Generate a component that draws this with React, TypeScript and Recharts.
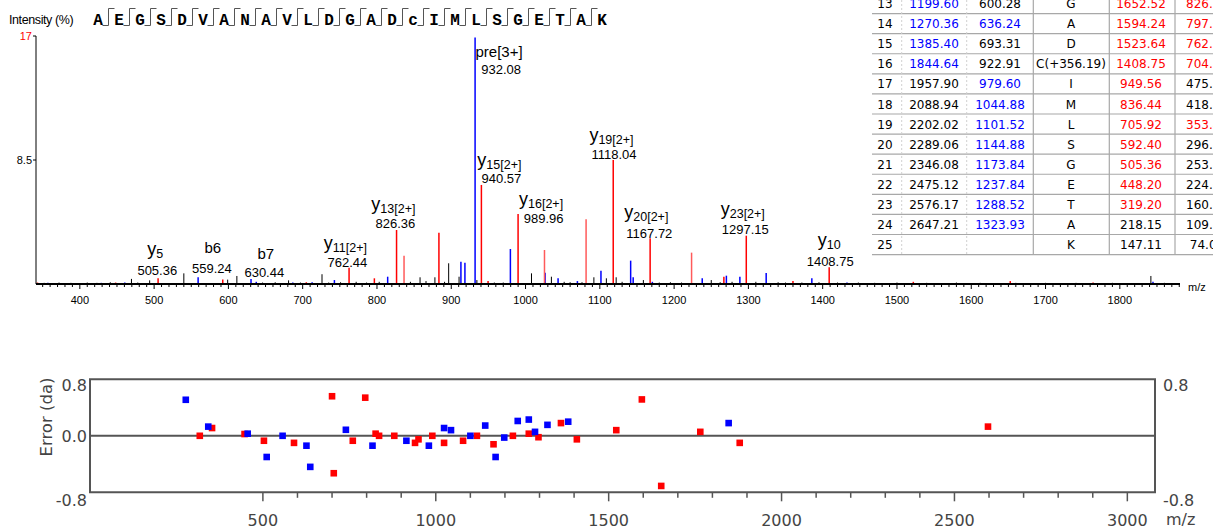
import React from 'react';
import {
  ComposedChart,
  ScatterChart,
  Scatter,
  XAxis,
  YAxis,
  ReferenceLine,
  ReferenceDot,
  ReferenceArea,
} from 'recharts';

// ---------------- spectrum peaks: [m/z, intensity %] ----------------
const blackPeaks: [number, number][] = [
  [352, 0.08], [372, 0.1], [388, 0.08], [410, 0.1], [423, 0.08], [441, 0.12], [469.5, 0.35],
  [478, 0.1], [494, 0.25], [540, 0.73], [599, 0.3], [611.4, 0.55], [646, 0.1], [663, 0.12],
  [681, 0.25], [697, 0.1], [726, 0.67], [735, 0.1], [751, 0.12], [772, 0.15], [786, 0.1],
  [803, 0.15], [845, 0.15], [858, 0.46], [866, 0.2], [878, 0.46], [891, 0.15], [896.5, 1.42],
  [910.5, 0.5], [934.5, 0.27], [958, 0.1], [970, 0.1], [1008, 0.73], [1034.8, 0.5], [1052, 0.15],
  [1060, 0.12], [1076, 0.12], [1092, 0.46], [1108.8, 0.39], [1122, 0.46], [1130, 0.15],
  [1158.6, 0.27], [1180, 0.1], [1195, 0.12], [1210, 0.1], [1250, 0.27], [1262, 0.12], [1278, 0.15],
  [1310, 0.15], [1340, 0.12], [1350, 0.1], [1372, 0.1], [1395, 0.12], [1420, 0.1], [1448, 0.1],
  [1470, 0.08], [1500, 0.1], [1540, 0.08], [1580, 0.1], [1612, 0.08], [1660, 0.08], [1700, 0.08],
  [1741, 0.08], [1790, 0.08], [1841.8, 0.55], [1860, 0.08],
];

const bluePeaks: [number, number][] = [
  [357, 0.08], [429, 0.08], [460.5, 0.1], [559.24, 0.46], [630.44, 0.34], [637.5, 0.15],
  [686.7, 0.1], [712.7, 0.12], [742.7, 0.27], [814.4, 0.5], [913, 1.53], [918.4, 1.46],
  [932.08, 16.9], [979.6, 2.4], [1026.3, 0.77], [1043.8, 0.39], [1069.8, 0.2], [1101.52, 0.91],
  [1141.5, 1.6], [1144.88, 0.46], [1170.7, 0.15], [1237.84, 0.39], [1270.36, 0.57],
  [1288.52, 0.5], [1323.93, 0.75], [1385.4, 0.39], [1432.7, 0.1], [1844.64, 0.15],
];

const redPeaks: [number, number][] = [
  [343, 0.1], [448.2, 0.1], [505.36, 0.39], [592.4, 0.3], [704.88, 0.12], [762.44, 1.12],
  [796.5, 0.39], [826.36, 3.7], [883.4, 3.52], [940.57, 6.79], [949.56, 0.2], [989.96, 4.8],
  [1118.04, 8.5], [1167.72, 3.13], [1267, 0.5], [1297.15, 3.31], [1360, 0.2], [1408.75, 1.14],
  [1522, 0.15], [1652.52, 0.2], [1764, 0.1],
];

const lightRedPeaks: [number, number][] = [
  [836.44, 1.94], [1025.5, 2.33], [1081.5, 4.43], [1223.5, 2.15],
];

// annotated peaks
const annotations = [
  { key: 'pre', mz: 932.08, int: 16.9, head: 'pre', sub: '', tail: '[3+]', value: '932.08' },
  { key: 'y15', mz: 940.57, int: 6.79, head: 'y', sub: '15', tail: '[2+]', value: '940.57' },
  { key: 'y16', mz: 989.96, int: 4.8, head: 'y', sub: '16', tail: '[2+]', value: '989.96' },
  { key: 'y19', mz: 1118.04, int: 8.5, head: 'y', sub: '19', tail: '[2+]', value: '1118.04' },
  { key: 'y20', mz: 1167.72, int: 3.13, head: 'y', sub: '20', tail: '[2+]', value: '1167.72' },
  { key: 'y23', mz: 1297.15, int: 3.31, head: 'y', sub: '23', tail: '[2+]', value: '1297.15' },
  { key: 'y13', mz: 826.36, int: 3.7, head: 'y', sub: '13', tail: '[2+]', value: '826.36' },
  { key: 'y11', mz: 762.44, int: 1.12, head: 'y', sub: '11', tail: '[2+]', value: '762.44' },
  { key: 'y10', mz: 1408.75, int: 1.14, head: 'y', sub: '10', tail: '', value: '1408.75' },
  { key: 'y5', mz: 505.36, int: 0.39, head: 'y', sub: '5', tail: '', value: '505.36' },
  { key: 'b6', mz: 559.24, int: 0.46, head: 'b6', sub: '', tail: '', value: '559.24' },
  { key: 'b7', mz: 630.44, int: 0.34, head: 'b7', sub: '', tail: '', value: '630.44' },
];

// label placement (px offsets from the peak top): [dx1, dy1, dx2, dy2]
const annLayout: Record<string, number[]> = {
  pre: [24, 19.5, 26, 36.5],
  y15: [18, -19, 20, -2],
  y16: [23, -9, 25.6, 9],
  y19: [-1.8, -19, 0.7, -1],
  y20: [-3.8, -20, -0.8, 0],
  y23: [-3.5, -20.7, -1, -1.7],
  y13: [-3.2, -20, -1.2, -2],
  y11: [-3.7, -18.7, -1.7, -0.7],
  y10: [0, -21.4, 1, -1.4],
  y5: [-2.8, -23.3, -0.8, -3.3],
  b6: [14.7, -24.3, 13.7, -4.3],
  b7: [14.8, -20, 13.3, -2],
};

const specMajorTicks = [400, 500, 600, 700, 800, 900, 1000, 1100, 1200, 1300, 1400, 1500, 1600, 1700, 1800];
const specTicks = Array.from({ length: 154 }, (_, i) => 350 + i * 10);

// ---------------- fragment table ----------------
const tableIdx = [13, 14, 15, 16, 17, 18, 19, 20, 21, 22, 23, 24, 25];
const tableB = ['1199.60', '1270.36', '1385.40', '1844.64', '1957.90', '2088.94', '2202.02', '2289.06', '2346.08', '2475.12', '2576.17', '2647.21', ''];
const tableB2 = ['600.28', '636.24', '693.31', '922.91', '979.60', '1044.88', '1101.52', '1144.88', '1173.84', '1237.84', '1288.52', '1323.93', ''];
const tableRes = ['G', 'A', 'D', 'C(+356.19)', 'I', 'M', 'L', 'S', 'G', 'E', 'T', 'A', 'K'];
const tableY = ['1652.52', '1594.24', '1523.64', '1408.75', '949.56', '836.44', '705.92', '592.40', '505.36', '448.20', '319.20', '218.15', '147.11'];
const tableY2 = ['826.76', '797.62', '762.32', '704.88', '475.28', '418.72', '353.46', '296.70', '253.18', '224.60', '160.10', '109.58', '74.06'];
const matchB = [1, 1, 1, 1, 0, 0, 0, 0, 0, 0, 0, 0, 0];
const matchB2 = [0, 1, 0, 0, 1, 1, 1, 1, 1, 1, 1, 1, 0];
const matchY = [1, 1, 1, 1, 1, 1, 1, 1, 1, 1, 1, 0, 0];
const matchY2 = [1, 1, 1, 1, 0, 0, 1, 0, 0, 0, 0, 0, 0];

const sequence = ['A', 'E', 'G', 'S', 'D', 'V', 'A', 'N', 'A', 'V', 'L', 'D', 'G', 'A', 'D', 'c', 'I', 'M', 'L', 'S', 'G', 'E', 'T', 'A', 'K'];

// ---------------- error plot ----------------
const bErrMz = [277, 342, 456, 511, 557, 626, 637, 740, 817, 915, 980, 1024, 1044, 1100, 1143, 1173, 1198, 1237, 1269, 1287, 1323, 1383, 1847];
const bErr = [0.51, 0.13, 0.03, -0.3, 0.0, -0.14, -0.44, 0.085, -0.14, -0.07, -0.14, 0.11, 0.08, 0.0, 0.145, -0.3, -0.025, 0.21, 0.23, 0.056, 0.155, 0.2, 0.18];
const yErrMz = [317.5, 353, 447, 503, 590, 700, 705, 760, 796, 826, 836, 880, 940, 950, 990, 1024, 1079, 1119, 1167, 1223, 1269, 1297, 1362, 1408, 1522, 1596, 1652, 1765, 1879, 2597];
const yErr = [0.0, 0.11, 0.025, -0.07, -0.1, 0.56, -0.53, -0.07, 0.54, 0.03, 0.0, 0.0, -0.1, -0.05, 0.0, -0.1, -0.07, 0.0, -0.12, 0.0, 0.03, -0.02, 0.18, -0.05, 0.08, 0.515, -0.71, 0.056, -0.1, 0.13];
const errMajorTicks = [500, 1000, 1500, 2000, 2500, 3000];
const errTicks = Array.from({ length: 26 }, (_, i) => 500 + i * 100);

const BLUE = '#0000ff';
const RED = '#ff0000';
const LIGHTRED = '#ff5a5a';
const SANS = 'Liberation Sans, Arial, sans-serif';
const TAHOMA = 'DejaVu Sans, Verdana, sans-serif';

const SpecXTick = (props: any) => {
  const { x, y, payload } = props;
  const v = payload.value;
  const major = specMajorTicks.includes(v);
  return (
    <g>
      <line x1={x} x2={x} y1={y} y2={y + (major ? 5 : 3)} stroke="#000" strokeWidth={1} />
      {major && (
        <text x={x} y={y + 20} textAnchor="middle" fontSize={11} fontFamily={SANS} fill="#000">
          {v}
        </text>
      )}
    </g>
  );
};

const SpecYTick = (props: any) => {
  const { x, y, payload } = props;
  const v = payload.value;
  const top = v === 17;
  return (
    <g>
      <line x1={x - 3} x2={x} y1={y} y2={y} stroke="#000" strokeWidth={1} />
      <text x={x - 4} y={y + 4} textAnchor="end" fontSize={11} fontFamily={SANS} fill={top ? RED : '#000'}>
        {top ? '17' : '8.5'}
      </text>
    </g>
  );
};

const PeakLabel = ({ cx, cy, a }: any) => {
  const [dx1, dy1, dx2, dy2] = annLayout[a.key];
  const isY = a.head === 'y';
  return (
    <g fontFamily={SANS} fill="#000">
      <text x={cx + dx1} y={cy + dy1} textAnchor="middle">
        <tspan fontSize={isY ? 18 : 15}>{a.head}</tspan>
        {a.sub ? <tspan fontSize={12.5} dy={3}>{a.sub}</tspan> : null}
        {a.tail ? <tspan fontSize={a.sub ? 12.5 : 15}>{a.tail}</tspan> : null}
      </text>
      <text x={cx + dx2} y={cy + dy2} textAnchor="middle" fontSize={13}>
        {a.value}
      </text>
    </g>
  );
};

const ErrXTick = (props: any) => {
  const { x, y, payload } = props;
  const v = payload.value;
  const major = errMajorTicks.includes(v);
  return (
    <g>
      <line x1={x} x2={x} y1={y} y2={y + (major ? 9 : 5.5)} stroke="#555" strokeWidth={1.5} />
      {major && (
        <text x={x} y={y + 34} textAnchor="middle" fontSize={16} fontFamily={TAHOMA} fill="#444">
          {v}
        </text>
      )}
    </g>
  );
};

const ErrYTick = (props: any) => {
  const { x, y, payload, side } = props;
  const v = payload.value;
  const dy = v > 0 ? 6 : v < 0 ? 8 : 0;
  const label = v === 0 ? '0.0' : v.toFixed(1);
  return (
    <text
      x={side === 'left' ? x - 3 : x + 8}
      y={y + dy + 6}
      textAnchor={side === 'left' ? 'end' : 'start'}
      fontSize={16}
      fontFamily={TAHOMA}
      fill="#444"
    >
      {label}
    </text>
  );
};

const Square = (props: any) => {
  const { cx, cy, fill } = props;
  if (cx == null || cy == null) return null;
  return <rect x={cx - 3.3} y={cy - 3.3} width={6.6} height={6.6} fill={fill} />;
};

const allPeaks = [
  ...blackPeaks.map((p) => ({ mz: p[0], int: p[1], c: '#000', w: 1 })),
  ...bluePeaks.map((p) => ({ mz: p[0], int: p[1], c: BLUE, w: 1.5 })),
  ...lightRedPeaks.map((p) => ({ mz: p[0], int: p[1], c: LIGHTRED, w: 1.5 })),
  ...redPeaks.map((p) => ({ mz: p[0], int: p[1], c: RED, w: 1.5 })),
];

const Spectrum = () => (
  <ComposedChart width={1213} height={320} margin={{ top: 36, right: 33, bottom: 6, left: 0 }}>
    <XAxis
      type="number"
      dataKey="mz"
      domain={[341, 1881]}
      ticks={specTicks}
      interval={0}
      tick={<SpecXTick />}
      tickLine={false}
      tickSize={0}
      tickMargin={0}
      axisLine={{ stroke: '#000', strokeWidth: 2 }}
      height={30}
      allowDataOverflow
    />
    <YAxis
      type="number"
      dataKey="int"
      domain={[0, 17]}
      ticks={[8.5, 17]}
      interval={0}
      width={36}
      tick={<SpecYTick />}
      tickLine={false}
      tickSize={0}
      tickMargin={0}
      axisLine={{ stroke: '#000', strokeWidth: 1 }}
      allowDataOverflow
    />
    <Scatter data={allPeaks} dataKey="int" shape={() => <g />} isAnimationActive={false} />
    {allPeaks.map((p, i) => (
      <ReferenceLine
        key={'pk' + i}
        segment={[
          { x: p.mz, y: 0 },
          { x: p.mz, y: p.int },
        ]}
        stroke={p.c}
        strokeWidth={p.w}
        ifOverflow="visible"
      />
    ))}
    {annotations.map((a) => (
      <ReferenceDot
        key={'an' + a.key}
        x={a.mz}
        y={a.int}
        r={0}
        ifOverflow="visible"
        shape={(p: any) => <PeakLabel cx={p.cx} cy={p.cy} a={a} />}
      />
    ))}
  </ComposedChart>
);

const bErrData = bErrMz.map((m, i) => ({ mz: m, err: bErr[i] }));
const yErrData = yErrMz.map((m, i) => ({ mz: m, err: yErr[i] }));

const ErrorPlot = () => (
  <ScatterChart width={1213} height={169} margin={{ top: 19.3, right: 0, bottom: 0, left: 0 }}>
    <XAxis
      type="number"
      dataKey="mz"
      domain={[0, 3080]}
      ticks={errTicks}
      interval={0}
      tick={<ErrXTick />}
      tickLine={false}
      tickSize={0}
      tickMargin={0}
      axisLine={false}
      height={36.7}
      allowDataOverflow
    />
    <YAxis
      type="number"
      dataKey="err"
      domain={[-0.8, 0.8]}
      ticks={[-0.8, 0, 0.8]}
      interval={0}
      width={90}
      tick={<ErrYTick side="left" />}
      tickLine={false}
      tickSize={0}
      tickMargin={0}
      axisLine={false}
      allowDataOverflow
    />
    <YAxis
      yAxisId="right"
      orientation="right"
      type="number"
      domain={[-0.8, 0.8]}
      ticks={[-0.8, 0.8]}
      interval={0}
      width={58}
      tick={<ErrYTick side="right" />}
      tickLine={false}
      tickSize={0}
      tickMargin={0}
      axisLine={false}
      allowDataOverflow
    />
    <ReferenceArea x1={0} x2={3080} y1={-0.8} y2={0.8} fill="none" stroke="#555" strokeWidth={2} ifOverflow="visible" />
    <ReferenceLine y={0} stroke="#555" strokeWidth={2} />
    <Scatter data={yErrData} fill={RED} shape={<Square />} isAnimationActive={false} />
    <Scatter data={bErrData} fill={BLUE} shape={<Square />} isAnimationActive={false} />
  </ScatterChart>
);

const Header = () => {
  const x0 = 98;
  const step = 21;
  return (
    <svg width={640} height={34} style={{ position: 'absolute', left: 0, top: 0 }}>
      <text x={9} y={24} fontSize={12.5} fontFamily={SANS} fill="#000" letterSpacing={-0.4}>
        Intensity (%)
      </text>
      {sequence.map((s, i) => (
        <text
          key={'s' + i}
          x={x0 + i * step}
          y={25}
          textAnchor="middle"
          fontSize={16}
          fontWeight="bold"
          fontFamily="Liberation Mono, Courier New, monospace"
          fill="#000"
        >
          {s}
        </text>
      ))}
      {sequence.slice(0, -1).map((_, i) => {
        const xs = x0 + i * step + 10.5;
        return (
          <path
            key={'m' + i}
            d={`M ${xs - 6} 25.5 L ${xs} 25.5 L ${xs} 8.5 L ${xs + 6} 8.5`}
            fill="none"
            stroke="#555"
            strokeWidth={1}
          />
        );
      })}
    </svg>
  );
};

const Table = () => {
  const rowH = 20.08;
  const c0 = 3.6;
  const colX = [885, 934, 1000, 1071, 1141, 1207];
  const cellColor = (m: number, c: string) => (m ? c : '#000');
  return (
    <svg width={1213} height={260} style={{ position: 'absolute', left: 0, top: 0 }}>
      <rect x={872} y={0} width={341} height={255} fill="#fff" />
      {tableIdx.map((_, k) => (
        <line key={'h' + k} x1={872} x2={1213} y1={c0 + 10 + rowH * k} y2={c0 + 10 + rowH * k} stroke="#a8a8a8" strokeWidth={1.2} />
      ))}
      <line x1={901.7} x2={901.7} y1={0} y2={254.6} stroke="#d0d0d0" strokeWidth={1} strokeDasharray="2 2" />
      <line x1={966.7} x2={966.7} y1={0} y2={254.6} stroke="#d0d0d0" strokeWidth={1} strokeDasharray="2 2" />
      <line x1={1033.3} x2={1033.3} y1={0} y2={254.6} stroke="#a8a8a8" strokeWidth={1.2} />
      <line x1={1109.3} x2={1109.3} y1={0} y2={254.6} stroke="#a8a8a8" strokeWidth={1.2} />
      <line x1={1175} x2={1175} y1={0} y2={254.6} stroke="#a8a8a8" strokeWidth={1.2} />
      <g fontFamily={TAHOMA} fontSize={12} textAnchor="middle">
        {tableIdx.map((idx, k) => {
          const y = c0 + rowH * k + 4.5;
          return (
            <g key={'r' + k}>
              <text x={colX[0]} y={y} fill="#000">{idx}</text>
              <text x={colX[1]} y={y} fill={cellColor(matchB[k], BLUE)}>{tableB[k]}</text>
              <text x={colX[2]} y={y} fill={cellColor(matchB2[k], BLUE)}>{tableB2[k]}</text>
              <text x={colX[3]} y={y} fill="#000">{tableRes[k]}</text>
              <text x={colX[4]} y={y} fill={cellColor(matchY[k], RED)}>{tableY[k]}</text>
              <text x={colX[5]} y={y} fill={cellColor(matchY2[k], RED)}>{tableY2[k]}</text>
            </g>
          );
        })}
      </g>
    </svg>
  );
};

export default function App() {
  return (
    <div
      style={{
        position: 'absolute',
        left: 0,
        top: 0,
        width: 1213,
        height: 529,
        overflow: 'hidden',
        background: '#fff',
      }}
    >
      <div style={{ position: 'absolute', left: 0, top: 0 }}>
        <Spectrum />
      </div>
      <svg width={1213} height={300} style={{ position: 'absolute', left: 0, top: 0, pointerEvents: 'none' }}>
        <text x={1188} y={291} fontSize={11} fontFamily={SANS} fill="#000">m/z</text>
      </svg>
      <Table />
      <Header />
      <div style={{ position: 'absolute', left: 0, top: 360 }}>
        <ErrorPlot />
      </div>
      <svg width={1213} height={169} style={{ position: 'absolute', left: 0, top: 360, pointerEvents: 'none' }}>
        <text
          x={0}
          y={0}
          transform="translate(52 57) rotate(-90)"
          textAnchor="middle"
          fontSize={16.5}
          fontFamily={TAHOMA}
          fill="#444"
        >
          Error (da)
        </text>
        <text x={1166} y={165} fontSize={16} fontFamily={TAHOMA} fill="#444">m/z</text>
      </svg>
    </div>
  );
}
